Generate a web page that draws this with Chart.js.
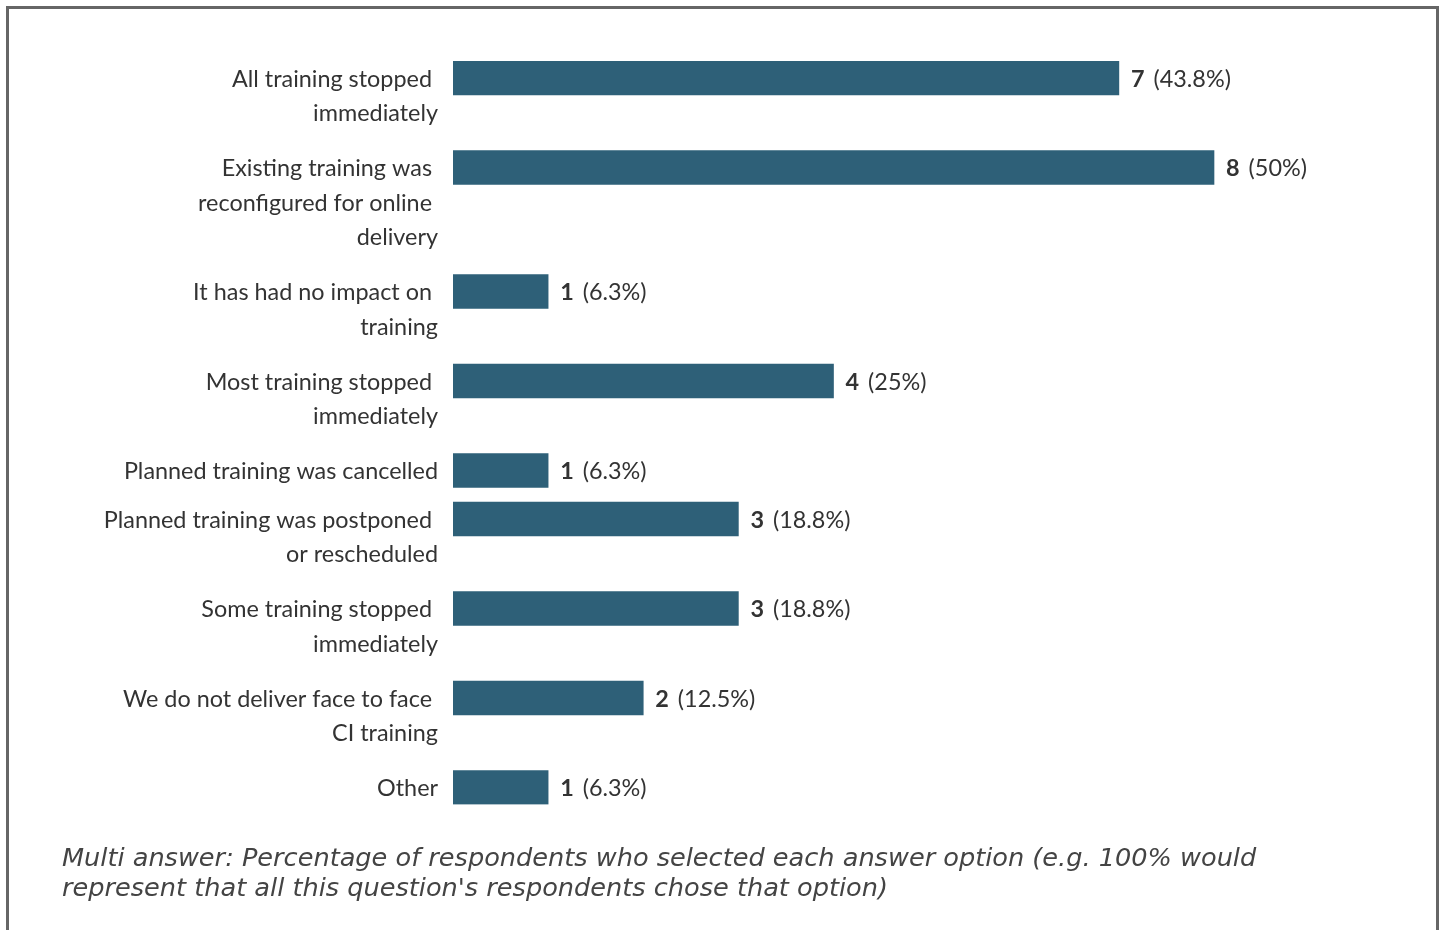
<!DOCTYPE html>
<html><head><meta charset="utf-8">
<script src="https://cdn.jsdelivr.net/npm/chart.js@4"></script>
<style>
html,body{margin:0;padding:0;background:#fff;width:1441px;height:930px;overflow:hidden}
#frame{position:absolute;left:6px;top:6px;width:1427px;height:1000px;border:3px solid #666;}
#wrap{position:absolute;left:0;top:0;width:1441px;height:930px}
#note{position:absolute;left:62px;top:842px;font:italic 25.6px "DejaVu Sans";color:#444;line-height:30px;width:1290px}
</style></head>
<body>
<div id="frame"></div>
<div id="wrap"><canvas id="c" width="1441" height="930"></canvas></div>
<div id="note">Multi answer: Percentage of respondents who selected each answer option (e.g. 100% would represent that all this question's respondents chose that option)</div>
<script>
const categories = [
  ["All training stopped", "immediately"],
  ["Existing training was", "reconfigured for online", "delivery"],
  ["It has had no impact on", "training"],
  ["Most training stopped", "immediately"],
  ["Planned training was cancelled"],
  ["Planned training was postponed", "or rescheduled"],
  ["Some training stopped", "immediately"],
  ["We do not deliver face to face", "CI training"],
  ["Other"]
];
const counts = [7, 8, 1, 4, 1, 3, 3, 2, 1];
const percents = ["43.8%", "50%", "6.3%", "25%", "6.3%", "18.8%", "18.8%", "12.5%", "6.3%"];

const LINE_H = 34.5, BAR_H = 34;
function rowHeight(n){ return n === 1 ? 48.5 : LINE_H * n + 20.5; }
const starts = [];
let acc = 0;
categories.forEach(c => { starts.push(acc); acc += rowHeight(c.length); });
const centers = starts.map(s => s + BAR_H / 2);
const totalH = starts[starts.length - 1] + BAR_H;

const labelFont = '23.4px Lato';
const textColor = '#333';

const labelsPlugin = {
  id: 'labels',
  afterDatasetsDraw(chart) {
    const ctx = chart.ctx;
    const xs = chart.scales.x, ys = chart.scales.y;
    ctx.save();
    ctx.fillStyle = textColor;
    ctx.textBaseline = 'middle';
    categories.forEach((lines, i) => {
      const yc = ys.getPixelForValue(centers[i]) + 1;
      ctx.font = labelFont;
      ctx.textAlign = 'right';
      lines.forEach((ln, k) => {
        const txt = k < lines.length - 1 ? ln + ' ' : ln;
        ctx.fillText(txt, chart.chartArea.left - 15, yc + k * LINE_H);
      });
      ctx.textAlign = 'left';
      let x = xs.getPixelForValue(counts[i]) + 12;
      ctx.font = 'bold ' + labelFont;
      ctx.fillText(String(counts[i]), x, yc);
      x += ctx.measureText(String(counts[i])).width + 9;
      ctx.font = labelFont;
      ctx.fillText('(' + percents[i] + ')', x, yc);
    });
    ctx.restore();
  }
};

new Chart(document.getElementById('c'), {
  type: 'bar',
  data: {
    datasets: [{
      data: counts.map((v, i) => ({ x: v, y: centers[i] })),
      backgroundColor: '#2e6078',
      barThickness: BAR_H,
      borderWidth: 0
    }]
  },
  options: {
    indexAxis: 'y',
    responsive: false,
    animation: false,
    layout: { padding: { left: 453, top: 61, bottom: 930 - 61 - totalH, right: 1441 - 453 - 95.125 * 10 } },
    scales: {
      x: { type: 'linear', min: 0, max: 10, display: false },
      y: { type: 'linear', min: 0, max: totalH, reverse: true, offset: false, display: false }
    },
    plugins: { legend: { display: false }, tooltip: { enabled: false } }
  },
  plugins: [labelsPlugin]
});
</script>
</body></html>
